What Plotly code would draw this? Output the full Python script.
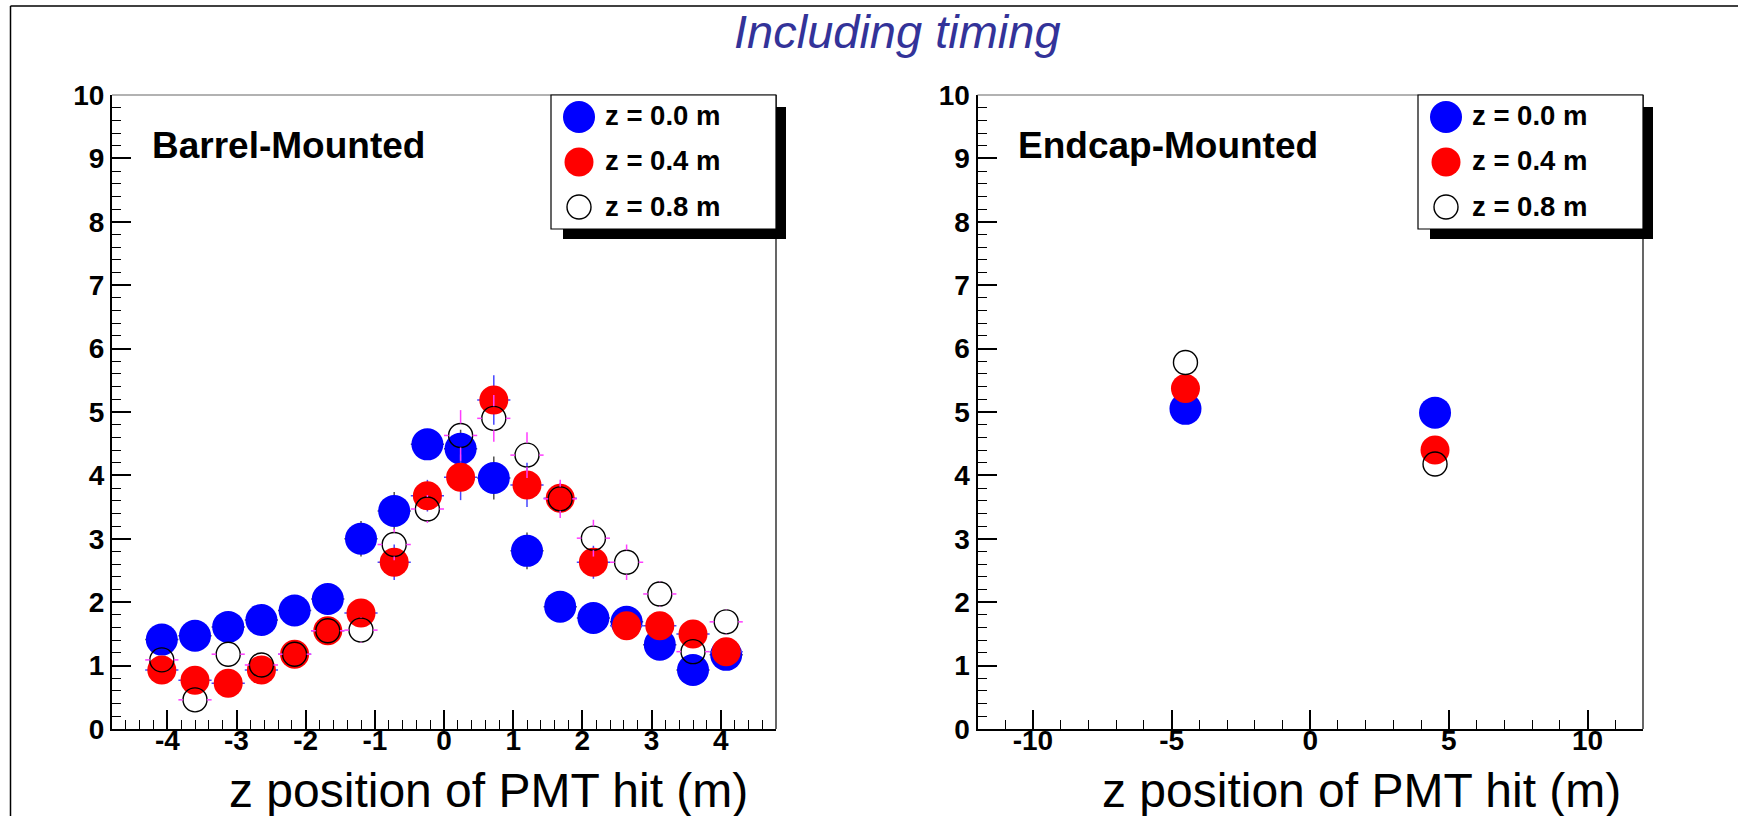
import plotly.graph_objects as go

W, H = 1738, 816

# ---------------- data ----------------
# Barrel-mounted panel (x = z position of PMT hit, m)
barrel_z = [-4.08, -3.6, -3.12, -2.64, -2.16, -1.68, -1.2, -0.72, -0.24,
            0.24, 0.72, 1.2, 1.68, 2.16, 2.64, 3.12, 3.6, 4.08]
barrel_z00 = [1.41, 1.47, 1.61, 1.72, 1.87, 2.05, 3.00, 3.44, 4.49,
              4.42, 3.96, 2.81, 1.93, 1.75, 1.69, 1.33, 0.93, 1.17]
barrel_z00_err = [0.10, 0.10, 0.11, 0.11, 0.12, 0.13, 0.28, 0.30, 0.24,
                  0.30, 0.34, 0.29, 0.15, 0.13, 0.13, 0.12, 0.10, 0.11]
barrel_z04 = [0.93, 0.77, 0.72, 0.93, 1.18, 1.55, 1.83, 2.63, 3.68,
              3.97, 5.19, 3.85, 3.64, 2.63, 1.63, 1.63, 1.50, 1.22]
barrel_z04_err = [0.10, 0.09, 0.09, 0.10, 0.12, 0.14, 0.16, 0.28, 0.25,
                  0.36, 0.39, 0.35, 0.24, 0.26, 0.15, 0.15, 0.14, 0.12]
barrel_z08 = [1.09, 0.46, 1.18, 1.01, 1.18, 1.55, 1.56, 2.91, 3.47,
              4.63, 4.90, 4.32, 3.63, 3.01, 2.63, 2.13, 1.22, 1.69]
barrel_z08_err = [0.11, 0.08, 0.17, 0.10, 0.12, 0.15, 0.20, 0.25, 0.22,
                  0.40, 0.37, 0.36, 0.30, 0.29, 0.28, 0.20, 0.15, 0.20]
bin_half_width = 0.24

# Endcap-mounted panel
endcap_z = [-4.5, 4.5]
endcap_z00 = [5.05, 4.99]
endcap_z04 = [5.37, 4.40]
endcap_z08 = [5.78, 4.18]

series_names = ["z = 0.0 m", "z = 0.4 m", "z = 0.8 m"]
panel_labels = ["Barrel-Mounted", "Endcap-Mounted"]
title_text = "Including timing"
axis_title = "z position of PMT hit (m)"

barrel_xticks = [-4, -3, -2, -1, 0, 1, 2, 3, 4]
barrel_xticklabels = ["-4", "-3", "-2", "-1", "0", "1", "2", "3", "4"]
endcap_xticks = [-10, -5, 0, 5, 10]
endcap_xticklabels = ["-10", "-5", "0", "5", "10"]
y_ticks = [0, 1, 2, 3, 4, 5, 6, 7, 8, 9, 10]
y_ticklabels = ["0", "1", "2", "3", "4", "5", "6", "7", "8", "9", "10"]

barrel_range = [-4.8, 4.8]
endcap_range = [-12, 12]
y_range = [0, 10]

# ---------------- layout helpers (pixels -> paper) ----------------
def px(x):
    return x / W


def py(y):
    return 1 - y / H


FONT = "Liberation Sans, Arial, sans-serif"
BLUE = "#0000ff"
RED = "#ff0000"
ERR_BLUE_SERIES = "#505050"
ERR_RED_SERIES = "rgb(70,70,255)"
ERR_OPEN_SERIES = "rgb(255,60,255)"

PLOT_L, PLOT_R = 112, 776
PLOT2_L, PLOT2_R = 977.5, 1643
PLOT_T, PLOT_B = 95, 729

left_dom = [px(PLOT_L), px(PLOT_R)]
right_dom = [px(PLOT2_L), px(PLOT2_R)]
y_dom = [py(PLOT_B), py(PLOT_T)]

SIZE_BLUE, SIZE_RED, SIZE_OPEN = 32, 29, 24

fig = go.Figure()


def open_error_segments(xs, ys, errs, xhalf, x_unit_px, y_unit_px, radius_px):
    """Error-bar segments with a gap inside the hollow marker (ROOT style)."""
    gx = radius_px / x_unit_px
    gy = radius_px / y_unit_px
    sx, sy = [], []
    for x, y, e in zip(xs, ys, errs):
        sx += [x - xhalf, x - gx, None, x + gx, x + xhalf, None]
        sy += [y, y, None, y, y, None]
        if e > gy:
            sx += [x, x, None, x, x, None]
            sy += [y + gy, y + e, None, y - gy, y - e, None]
    return sx, sy


def add_series(xs, ys, errs, xa, ya, xrng):
    with_err = errs is not None
    specs = [
        (dict(symbol="circle", size=SIZE_BLUE, color=BLUE), ERR_BLUE_SERIES),
        (dict(symbol="circle", size=SIZE_RED, color=RED), ERR_RED_SERIES),
        (dict(symbol="circle-open", size=SIZE_OPEN, color="black",
              line=dict(width=1.4, color="black")), ERR_OPEN_SERIES),
    ]
    for i, ((mk, ecol), name) in enumerate(zip(specs, series_names)):
        tr = dict(x=xs, y=ys[i], mode="markers", marker=mk, name=name,
                  xaxis=xa, yaxis=ya, showlegend=False)
        if with_err and i < 2:
            tr["error_y"] = dict(type="data", array=errs[i], color=ecol, thickness=1.5, width=0)
            tr["error_x"] = dict(type="constant", value=bin_half_width, color=ecol,
                                 thickness=1.5, width=0)
        fig.add_trace(go.Scatter(**tr))
        if with_err and i == 2:
            x_unit_px = (PLOT_R - PLOT_L) / (xrng[1] - xrng[0])
            y_unit_px = (PLOT_B - PLOT_T) / (y_range[1] - y_range[0])
            sx, sy = open_error_segments(xs, ys[i], errs[i], bin_half_width,
                                         x_unit_px, y_unit_px, SIZE_OPEN / 2)
            fig.add_trace(go.Scatter(x=sx, y=sy, mode="lines", xaxis=xa, yaxis=ya,
                                     line=dict(color=ecol, width=1.5), showlegend=False,
                                     hoverinfo="skip", name=name + " errors"))


add_series(barrel_z, [barrel_z00, barrel_z04, barrel_z08],
           [barrel_z00_err, barrel_z04_err, barrel_z08_err], "x", "y", barrel_range)
add_series(endcap_z, [endcap_z00, endcap_z04, endcap_z08], None, "x2", "y2", endcap_range)

tickfont = dict(family=FONT, size=28, color="black", weight="bold")


def xaxis_cfg(dom, rng, tv, tt, minor_dtick, anchor):
    return dict(domain=dom, range=rng, anchor=anchor, showgrid=False, zeroline=False,
                automargin=False,
                showline=True, linecolor="black", linewidth=2, mirror=False,
                ticks="inside", ticklen=19, tickwidth=1.5, tickcolor="black",
                tickmode="array", tickvals=tv, ticktext=tt,
                tickfont=tickfont, ticklabelstandoff=-15,
                minor=dict(ticks="inside", ticklen=9, tickwidth=1.2, tickcolor="black",
                           tick0=0, dtick=minor_dtick, showgrid=False),
                fixedrange=True)


def yaxis_cfg(anchor):
    return dict(domain=y_dom, range=y_range, anchor=anchor, showgrid=False, zeroline=False,
                automargin=False,
                showline=True, linecolor="black", linewidth=2, mirror=False,
                ticks="inside", ticklen=19, tickwidth=1.5, tickcolor="black",
                tickmode="array", tickvals=y_ticks, ticktext=y_ticklabels,
                tickfont=tickfont, ticklabelstandoff=0,
                minor=dict(ticks="inside", ticklen=9, tickwidth=1.2, tickcolor="black",
                           tick0=0, dtick=0.2, showgrid=False),
                fixedrange=True)


shapes = []
# outer slide frame (left and top edges; cut off at right / bottom)
shapes.append(dict(type="line", xref="paper", yref="paper",
                   x0=px(10.5), x1=px(10.5), y0=0, y1=py(6),
                   line=dict(color="black", width=1.5)))
shapes.append(dict(type="line", xref="paper", yref="paper",
                   x0=px(10.5), x1=1, y0=py(6), y1=py(6),
                   line=dict(color="black", width=1.5)))

for xd, yd in (("x domain", "y domain"), ("x2 domain", "y2 domain")):
    shapes.append(dict(type="line", xref=xd, yref=yd, x0=0, x1=1, y0=1, y1=1,
                       line=dict(color="#666666", width=1.2)))
    shapes.append(dict(type="line", xref=xd, yref=yd, x0=1, x1=1, y0=0, y1=1,
                       line=dict(color="black", width=1.2)))

annotations = []

# legend boxes with shadow, drawn per panel
for box_r in (PLOT_R, PLOT2_R):
    box_l, box_t, box_b = box_r - 225, PLOT_T, 229
    shapes.append(dict(type="rect", xref="paper", yref="paper",
                       x0=px(box_l + 12), x1=px(box_r + 10), y0=py(box_b + 10), y1=py(box_t + 12),
                       line=dict(width=0), fillcolor="black"))
    shapes.append(dict(type="rect", xref="paper", yref="paper",
                       x0=px(box_l), x1=px(box_r), y0=py(box_b), y1=py(box_t),
                       line=dict(color="black", width=1.2), fillcolor="white"))
    marker_specs = [(SIZE_BLUE, BLUE, 0), (SIZE_RED, RED, 0), (SIZE_OPEN, "rgba(0,0,0,0)", 1.4)]
    for i, ((d, col, lw), name) in enumerate(zip(marker_specs, series_names)):
        cy = box_t + 22 + 45 * i
        cx = box_l + 28
        r = d / 2
        shapes.append(dict(type="circle", xref="paper", yref="paper",
                           xsizemode="pixel", ysizemode="pixel",
                           xanchor=px(cx), yanchor=py(cy),
                           x0=-r, x1=r, y0=-r, y1=r, fillcolor=col,
                           line=dict(color="black" if lw else col, width=lw if lw else 0)))
        annotations.append(dict(xref="paper", yref="paper", x=px(box_l + 52), y=py(cy - 1),
                                xanchor="left", yanchor="middle", showarrow=False,
                                text=name, font=dict(family=FONT, size=27.5, color="black",
                                                     weight="bold")))

# panel labels
for xl, lab in ((150, panel_labels[0]), (1016, panel_labels[1])):
    annotations.append(dict(xref="paper", yref="paper", x=px(xl), y=py(145),
                            xanchor="left", yanchor="middle", showarrow=False, text=lab,
                            font=dict(family=FONT, size=37, color="black", weight="bold")))

# axis titles (right-aligned, ROOT style)
for xr in (750, 1623):
    annotations.append(dict(xref="paper", yref="paper", x=px(xr), y=py(790),
                            xanchor="right", yanchor="middle", showarrow=False,
                            text=axis_title,
                            font=dict(family=FONT, size=48, color="black")))

# slide title
annotations.append(dict(xref="paper", yref="paper", x=px(897), y=py(32),
                        xanchor="center", yanchor="middle", showarrow=False,
                        text="<i>" + title_text + "</i>",
                        font=dict(family=FONT, size=47, color="rgb(51,51,153)")))

fig.update_layout(
    width=W, height=H, autosize=False,
    margin=dict(l=0, r=0, t=0, b=0, pad=0, autoexpand=False),
    paper_bgcolor="white", plot_bgcolor="white",
    xaxis=xaxis_cfg(left_dom, barrel_range, barrel_xticks, barrel_xticklabels, 0.2, "y"),
    yaxis=yaxis_cfg("x"),
    xaxis2=xaxis_cfg(right_dom, endcap_range, endcap_xticks, endcap_xticklabels, 1, "y2"),
    yaxis2=yaxis_cfg("x2"),
    shapes=shapes,
    annotations=annotations,
    showlegend=False,
)

fig.write_html("out.html", config={"displayModeBar": False},
               post_script="document.body.style.margin='0';")
